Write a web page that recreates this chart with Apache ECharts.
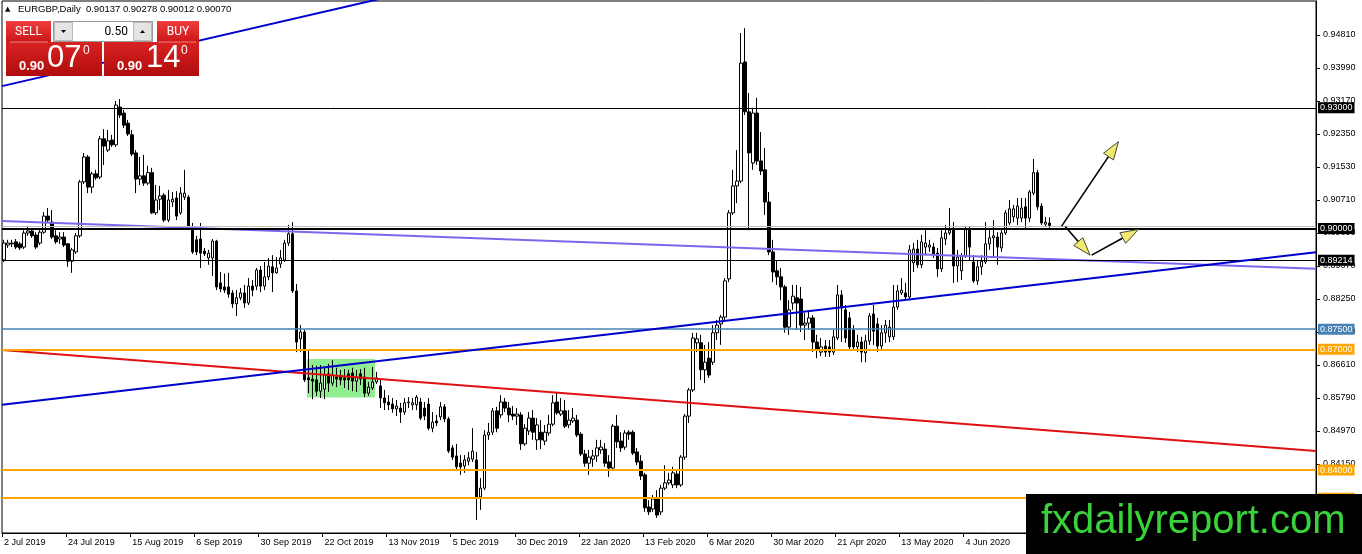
<!DOCTYPE html>
<html><head><meta charset="utf-8">
<script src="https://cdn.jsdelivr.net/npm/echarts@6/dist/echarts.min.js"></script>
<style>html,body{margin:0;padding:0;background:#fff;}#c{width:1362px;height:554px;}</style>
</head><body><div id="c"></div>
<script>
// ---------- data ----------
const tickLabels = ['2 Jul 2019','24 Jul 2019','15 Aug 2019','6 Sep 2019','30 Sep 2019','22 Oct 2019','13 Nov 2019','5 Dec 2019','30 Dec 2019','22 Jan 2020','13 Feb 2020','6 Mar 2020','30 Mar 2020','21 Apr 2020','13 May 2020','4 Jun 2020','26 Jun 2020','20 Jul 2020','11 Aug 2020','2 Sep 2020','24 Sep 2020'];
const opens = [
0.8922,0.8959,0.8962,0.8967,0.8962,0.8954,0.8989,0.8994,0.8984,0.8964,
0.8991,0.9031,0.9016,0.8982,0.8974,0.8979,0.8962,0.8919,0.8942,0.8982,
0.9116,0.9178,0.9103,0.9136,0.9128,0.9223,0.9195,0.9220,0.9208,0.9302,
0.9287,0.9262,0.9233,0.9188,0.9123,0.9131,0.9113,0.9139,0.9039,0.9073,
0.9083,0.9021,0.9066,0.9076,0.9039,0.9078,0.9078,0.9004,0.8972,0.8974,
0.8944,0.8927,0.8927,0.8969,0.8865,0.8855,0.8855,0.8840,0.8813,0.8828,
0.8840,0.8815,0.8857,0.8857,0.8897,0.8857,0.8880,0.8905,0.8890,0.8912,
0.8922,0.8964,0.8987,0.8845,0.8726,0.8743,0.8629,0.8626,0.8624,0.8596,
0.8601,0.8639,0.8616,0.8631,0.8631,0.8629,0.8639,0.8641,0.8621,0.8639,
0.8631,0.8591,0.8604,0.8619,0.8609,0.8579,0.8569,0.8564,0.8552,0.8554,
0.8544,0.8567,0.8562,0.8562,0.8569,0.8554,0.8564,0.8504,0.8522,0.8532,
0.8557,0.8527,0.8455,0.8435,0.8417,0.8410,0.8422,0.8427,0.8425,0.8333,
0.8355,0.8487,0.8494,0.8547,0.8537,0.8569,0.8554,0.8539,0.8534,0.8537,
0.8465,0.8497,0.8529,0.8475,0.8494,0.8472,0.8492,0.8514,0.8569,0.8539,
0.8547,0.8512,0.8522,0.8524,0.8489,0.8440,0.8417,0.8427,0.8435,0.8450,
0.8452,0.8420,0.8405,0.8509,0.8472,0.8457,0.8494,0.8494,0.8445,0.8422,
0.8388,0.8308,0.8303,0.8328,0.8296,0.8355,0.8368,0.8363,0.8390,0.8363,
0.8432,0.8534,0.8599,0.8716,0.8716,0.8649,0.8678,0.8668,0.8741,0.8763,
0.8780,0.8875,0.9039,0.9106,0.9118,0.9414,0.9290,0.9163,0.9287,0.9168,
0.9146,0.9066,0.8942,0.8895,0.8880,0.8855,0.8755,0.8815,0.8828,0.8825,
0.8760,0.8765,0.8778,0.8718,0.8693,0.8708,0.8706,0.8693,0.8728,0.8835,
0.8798,0.8778,0.8748,0.8706,0.8718,0.8691,0.8721,0.8788,0.8763,0.8708,
0.8741,0.8731,0.8731,0.8805,0.8840,0.8840,0.8830,0.8915,0.8949,0.8910,
0.8954,0.8954,0.8954,0.8939,0.8900,0.8974,0.8989,0.8996,0.8907,0.8895,
0.8932,0.8999,0.8917,0.8870,0.8905,0.8917,0.8962,0.8977,0.8979,0.8952,
0.8989,0.9014,0.9029,0.9026,0.9026,0.9054,0.9026,0.9088,0.9139,0.9056,
0.9011,0.90137];
const closes = [
0.8964,0.8964,0.8964,0.8954,0.8952,0.8989,0.8994,0.8982,0.8954,0.8991,
0.9031,0.9021,0.8979,0.8967,0.8979,0.8959,0.8919,0.8947,0.8982,0.9116,
0.9178,0.9103,0.9136,0.9126,0.9223,0.9205,0.9218,0.9208,0.9307,0.9282,
0.9257,0.9235,0.9185,0.9123,0.9131,0.9113,0.9139,0.9039,0.9071,0.9081,
0.9021,0.9071,0.9073,0.9031,0.9088,0.9088,0.9004,0.8942,0.8942,0.8939,
0.8937,0.8939,0.8969,0.8855,0.8850,0.8847,0.8837,0.8813,0.8828,0.8840,
0.8815,0.8857,0.8847,0.8897,0.8857,0.8880,0.8907,0.8890,0.8902,0.8927,
0.8964,0.8987,0.8845,0.8718,0.8743,0.8624,0.8624,0.8621,0.8596,0.8616,
0.8636,0.8616,0.8636,0.8626,0.8624,0.8624,0.8624,0.8621,0.8631,0.8626,
0.8591,0.8606,0.8619,0.8629,0.8579,0.8567,0.8562,0.8552,0.8559,0.8544,
0.8567,0.8569,0.8567,0.8581,0.8529,0.8534,0.8504,0.8519,0.8517,0.8557,
0.8527,0.8447,0.8432,0.8408,0.8408,0.8425,0.8430,0.8447,0.8333,0.8355,
0.8487,0.8494,0.8547,0.8504,0.8569,0.8554,0.8537,0.8534,0.8539,0.8465,
0.8504,0.8529,0.8494,0.8512,0.8475,0.8494,0.8514,0.8567,0.8542,0.8547,
0.8509,0.8524,0.8529,0.8487,0.8440,0.8417,0.8432,0.8435,0.8455,0.8457,
0.8417,0.8405,0.8509,0.8470,0.8455,0.8492,0.8489,0.8442,0.8420,0.8385,
0.8306,0.8296,0.8328,0.8288,0.8355,0.8368,0.8375,0.8393,0.8363,0.8432,
0.8534,0.8599,0.8728,0.8726,0.8649,0.8668,0.8636,0.8741,0.8760,0.8780,
0.8870,0.9039,0.9106,0.9118,0.9411,0.9290,0.9188,0.9287,0.9168,0.9143,
0.9066,0.8942,0.8892,0.8880,0.8855,0.8755,0.8798,0.8832,0.8815,0.8760,
0.8765,0.8778,0.8718,0.8698,0.8706,0.8693,0.8693,0.8731,0.8835,0.8803,
0.8728,0.8706,0.8706,0.8718,0.8693,0.8721,0.8783,0.8745,0.8708,0.8741,
0.8760,0.8755,0.8805,0.8845,0.8847,0.8830,0.8947,0.8949,0.8910,0.8967,
0.8964,0.8959,0.8937,0.8900,0.8977,0.8989,0.8996,0.8907,0.8929,0.8932,
0.8999,0.8954,0.8870,0.8905,0.8919,0.8962,0.8977,0.8982,0.8954,0.8989,
0.9039,0.9049,0.9049,0.9056,0.9051,0.9026,0.9091,0.9139,0.9054,0.9014,
0.9016,0.90070];
const lows = [
0.8917,0.8952,0.8954,0.8949,0.8947,0.8949,0.8982,0.8977,0.8949,0.8959,
0.8987,0.9016,0.8974,0.8962,0.8962,0.8954,0.8905,0.8890,0.8937,0.8977,
0.9111,0.9088,0.9088,0.9121,0.9123,0.9158,0.9190,0.9203,0.9203,0.9275,
0.9250,0.9230,0.9180,0.9088,0.9108,0.9106,0.9108,0.9036,0.9034,0.9046,
0.9016,0.9016,0.9054,0.9021,0.9034,0.9071,0.8999,0.8937,0.8934,0.8902,
0.8932,0.8910,0.8882,0.8847,0.8842,0.8840,0.8828,0.8803,0.8783,0.8822,
0.8803,0.8810,0.8832,0.8847,0.8842,0.8847,0.8872,0.8842,0.8888,0.8902,
0.8917,0.8957,0.8840,0.8693,0.8693,0.8619,0.8591,0.8576,0.8584,0.8579,
0.8576,0.8594,0.8609,0.8606,0.8611,0.8604,0.8599,0.8596,0.8594,0.8611,
0.8581,0.8584,0.8599,0.8614,0.8554,0.8549,0.8549,0.8542,0.8534,0.8517,
0.8537,0.8554,0.8549,0.8549,0.8524,0.8524,0.8499,0.8494,0.8509,0.8524,
0.8519,0.8442,0.8425,0.8400,0.8388,0.8393,0.8412,0.8420,0.8276,0.8301,
0.8350,0.8475,0.8487,0.8494,0.8529,0.8544,0.8519,0.8524,0.8512,0.8450,
0.8460,0.8487,0.8475,0.8450,0.8452,0.8462,0.8485,0.8509,0.8537,0.8534,
0.8504,0.8504,0.8517,0.8482,0.8435,0.8408,0.8388,0.8408,0.8420,0.8440,
0.8408,0.8383,0.8400,0.8455,0.8445,0.8450,0.8475,0.8437,0.8412,0.8375,
0.8296,0.8288,0.8296,0.8281,0.8288,0.8350,0.8363,0.8355,0.8355,0.8358,
0.8425,0.8517,0.8594,0.8693,0.8624,0.8616,0.8629,0.8661,0.8723,0.8711,
0.8773,0.8867,0.9034,0.9063,0.9113,0.9282,0.8996,0.9146,0.9158,0.9133,
0.9034,0.8934,0.8867,0.8860,0.8822,0.8741,0.8736,0.8798,0.8748,0.8743,
0.8723,0.8748,0.8693,0.8678,0.8683,0.8681,0.8681,0.8686,0.8723,0.8718,
0.8716,0.8698,0.8698,0.8693,0.8668,0.8668,0.8711,0.8711,0.8693,0.8698,
0.8716,0.8718,0.8723,0.8798,0.8835,0.8822,0.8822,0.8892,0.8902,0.8902,
0.8934,0.8942,0.8927,0.8880,0.8892,0.8959,0.8984,0.8865,0.8867,0.8872,
0.8927,0.8922,0.8865,0.8860,0.8885,0.8912,0.8947,0.8927,0.8910,0.8942,
0.8984,0.9009,0.9016,0.9009,0.9016,0.9001,0.9016,0.9083,0.9046,0.9009,
0.9004,0.90012];
const highs = [
0.8972,0.8972,0.8972,0.8974,0.8967,0.8996,0.9006,0.9001,0.8991,0.8999,
0.9041,0.9051,0.9046,0.8996,0.8991,0.8991,0.8964,0.8952,0.8989,0.9121,
0.9188,0.9183,0.9141,0.9146,0.9230,0.9247,0.9245,0.9233,0.9317,0.9322,
0.9295,0.9270,0.9245,0.9195,0.9178,0.9183,0.9156,0.9151,0.9108,0.9106,
0.9088,0.9096,0.9091,0.9093,0.9103,0.9146,0.9083,0.9014,0.8982,0.9014,
0.8952,0.8947,0.8974,0.8972,0.8892,0.8888,0.8890,0.8847,0.8847,0.8852,
0.8860,0.8877,0.8872,0.8902,0.8907,0.8917,0.8927,0.8934,0.8929,0.8947,
0.8972,0.9009,0.9016,0.8862,0.8760,0.8748,0.8698,0.8661,0.8659,0.8661,
0.8654,0.8664,0.8673,0.8654,0.8649,0.8651,0.8649,0.8654,0.8649,0.8651,
0.8654,0.8619,0.8656,0.8644,0.8624,0.8599,0.8586,0.8579,0.8574,0.8567,
0.8579,0.8581,0.8579,0.8586,0.8579,0.8569,0.8579,0.8544,0.8537,0.8569,
0.8564,0.8532,0.8462,0.8465,0.8437,0.8437,0.8445,0.8504,0.8445,0.8380,
0.8499,0.8517,0.8554,0.8557,0.8586,0.8579,0.8569,0.8559,0.8554,0.8544,
0.8514,0.8544,0.8549,0.8529,0.8524,0.8512,0.8537,0.8586,0.8591,0.8579,
0.8574,0.8549,0.8554,0.8537,0.8494,0.8450,0.8450,0.8450,0.8475,0.8475,
0.8467,0.8437,0.8514,0.8537,0.8494,0.8499,0.8499,0.8499,0.8455,0.8437,
0.8393,0.8325,0.8338,0.8350,0.8363,0.8412,0.8393,0.8408,0.8400,0.8437,
0.8539,0.8604,0.8741,0.8741,0.8736,0.8711,0.8718,0.8760,0.8773,0.8785,
0.8877,0.9046,0.9146,0.9195,0.9486,0.9498,0.9337,0.9300,0.9325,0.9240,
0.9200,0.9091,0.8972,0.8922,0.8902,0.8860,0.8822,0.8860,0.8860,0.8855,
0.8790,0.8793,0.8785,0.8736,0.8728,0.8723,0.8723,0.8748,0.8860,0.8847,
0.8810,0.8793,0.8760,0.8736,0.8731,0.8736,0.8790,0.8810,0.8778,0.8760,
0.8773,0.8773,0.8860,0.8860,0.8877,0.8865,0.8959,0.8964,0.8972,0.8984,
0.8999,0.8972,0.8964,0.8952,0.8996,0.9009,0.9051,0.9016,0.8947,0.8939,
0.9004,0.9004,0.8934,0.8922,0.8934,0.9016,0.8996,0.9021,0.8991,0.8996,
0.9046,0.9071,0.9059,0.9076,0.9076,0.9076,0.9096,0.9173,0.9146,0.9063,
0.9029,0.90278];
const yLabelValues = [0.8333,0.8415,0.8497,0.8579,0.8661,0.8743,0.8825,0.8907,0.8989,0.9071,0.9153,0.9235,0.9317,0.9399,0.9481];
const levelPrices = [0.93000, 0.90000, 0.89214, 0.87500, 0.87000, 0.84000, 0.83300];
// trend lines: [barIndex, price] anchor pairs
const trendUpperBlue = [[-0.5, 0.9354], [100, 0.9585]];
const trendBlue = [[-0.5, 0.8562], [327.5, 0.8941]];
const trendPurple = [[-0.5, 0.9019], [327.5, 0.8900]];
const trendRed = [[-0.5, 0.8698], [327.5, 0.8447]];
// arrows: [fromBar, fromPrice, toBar, toPrice]
const arrows = [[264.0, 0.9006, 278.2, 0.9216], [264.9, 0.9005, 271.1, 0.8934], [271.5, 0.8934, 283.2, 0.8998]];
// consolidation box: [bar0, price0, bar1, price1]
const zone = [[75.6, 0.8676, 92.6, 0.8580]];
const SLOTS = 328;

// ---------- chart ----------
const FONT = '"Liberation Sans", Arial, sans-serif';
const chart = echarts.init(document.getElementById('c'), null, {width:1362, height:554});
const ohlc = opens.map((o, i) => [o, closes[i], lows[i], highs[i]]);
const cats = Array.from({length: SLOTS}, (_, i) => String(i));
const every16 = (i) => i % 16 === 0;
const bid = closes[closes.length - 1];

const levelColors = ['#000000','#000000','#000000','#4682b4','#ffa500','#ffa500','#ffa500'];
const levelWidths = [1, 2, 1, 1.5, 2, 2, 2];
const markData = [{yAxis: bid, lineStyle:{color:'#c0c0c0', width:1, type:'solid'}, label:{show:false}}]
  .concat(levelPrices.map((p, k) => ({
    yAxis: p,
    lineStyle: {color: levelColors[k], width: levelWidths[k], type: 'solid'},
    label: {show: true, position: 'end', distance: 2, formatter: p.toFixed(5),
      backgroundColor: levelColors[k], color: '#fff', fontSize: 9, fontFamily: FONT,
      padding: [1, 2, 0, 2], lineHeight: 10}
  })));

const redTop = new echarts.graphic.LinearGradient(0,0,0,1,[{offset:0,color:'#ee3e3e'},{offset:1,color:'#cc1717'}]);
const redBox1 = new echarts.graphic.LinearGradient(0,0,0,1,[{offset:0,color:'#d92222'},{offset:1,color:'#b10c0c'}]);
const redBox2 = new echarts.graphic.LinearGradient(0,0,0,1,[{offset:0,color:'#d92222'},{offset:1,color:'#b10c0c'}]);

function txt(x, y, text, font, fill, align) {
  return {type:'text', x:x, y:y, z:100, silent:true,
    style:{text:text, font:font, fill:fill, align:align || 'left', verticalAlign:'middle'}};
}

const option = {
  animation: false,
  backgroundColor: '#ffffff',
  grid: {left: 2, right: 46, top: 1, bottom: 21, show: true, borderColor: '#000', borderWidth: 1, containLabel: false},
  xAxis: [{
    type: 'category', data: cats, boundaryGap: true,
    axisLine: {show: true, onZero: false, lineStyle: {color: '#000', width: 1}},
    axisTick: {show: true, interval: every16, alignWithLabel: false, length: 4, lineStyle: {color: '#000'}},
    axisLabel: {interval: every16, formatter: (v, i) => tickLabels[i / 16] || '', align: 'left',
      margin: 5, fontSize: 9, fontFamily: FONT, color: '#000'},
    splitLine: {show: false}
  }, {
    type: 'value', min: -0.5, max: SLOTS - 0.5, show: false,
    axisLine: {onZero: false}
  }],
  yAxis: {
    type: 'value', position: 'right', min: 0.82435, max: 0.95655,
    axisLine: {show: true, onZero: false, lineStyle: {color: '#000', width: 1}},
    axisTick: {show: true, inside: false, customValues: yLabelValues, length: 4, lineStyle: {color: '#000'}},
    axisLabel: {customValues: yLabelValues, formatter: v => v.toFixed(5), color: '#000',
      fontSize: 9, fontFamily: FONT, margin: 7},
    splitLine: {show: false}
  },
  series: [
    {type: 'custom', xAxisIndex: 1, z: 1, silent: true, clip: true, data: zone,
      encode: {x: [0, 2], y: [1, 3]},
      renderItem: (params, api) => {
        const a = api.coord([api.value(0), api.value(1)]);
        const b = api.coord([api.value(2), api.value(3)]);
        return {type: 'rect', shape: {x: Math.min(a[0], b[0]), y: Math.min(a[1], b[1]),
          width: Math.abs(b[0] - a[0]), height: Math.abs(b[1] - a[1])}, style: {fill: '#90ee90'}};
      }},
    {type: 'candlestick', data: ohlc, barWidth: 3, z: 3, silent: true,
      itemStyle: {color: '#ffffff', color0: '#000000', borderColor: '#000000', borderColor0: '#000000', borderWidth: 1}},
    {type: 'line', xAxisIndex: 1, data: trendPurple, symbol: 'none', z: 4, silent: true,
      lineStyle: {color: '#7b68ee', width: 2}},
    {type: 'line', xAxisIndex: 1, data: trendRed, symbol: 'none', z: 4, silent: true,
      lineStyle: {color: '#e01010', width: 2}},
    {type: 'line', xAxisIndex: 1, data: trendUpperBlue, symbol: 'none', z: 4, silent: true,
      lineStyle: {color: '#0000cd', width: 2}},
    {type: 'line', xAxisIndex: 1, data: trendBlue, symbol: 'none', z: 5, silent: true,
      lineStyle: {color: '#0000cd', width: 2},
      markLine: {symbol: ['none', 'none'], silent: true, animation: false, precision: 5, data: markData}},
    {type: 'custom', xAxisIndex: 1, z: 6, silent: true, clip: true, data: arrows,
      encode: {x: [0, 2], y: [1, 3]},
      renderItem: (params, api) => {
        const a = api.coord([api.value(0), api.value(1)]);
        const b = api.coord([api.value(2), api.value(3)]);
        const dx = b[0] - a[0], dy = b[1] - a[1], L = Math.hypot(dx, dy);
        const ux = dx / L, uy = dy / L, hl = 18, hw = 6;
        const base = [b[0] - ux * hl, b[1] - uy * hl];
        return {type: 'group', children: [
          {type: 'line', shape: {x1: a[0], y1: a[1], x2: base[0], y2: base[1]}, style: {stroke: '#000', lineWidth: 1.6}},
          {type: 'polygon', shape: {points: [b, [base[0] - uy * hw, base[1] + ux * hw], [base[0] + uy * hw, base[1] - ux * hw]]},
            style: {fill: '#f2ea6c', stroke: '#444', lineWidth: 1}}
        ]};
      }}
  ],
  graphic: {elements: [
    txt(5, 9, '\u25B2', '7px "DejaVu Sans"', '#000'),
    txt(18, 9.5, 'EURGBP,Daily  0.90137 0.90278 0.90012 0.90070', '9.5px ' + FONT, '#000'),
    {type: 'rect', z: 100, shape: {x: 6, y: 21, width: 45, height: 21}, style: {fill: redTop}},
    {type: 'rect', z: 100, shape: {x: 157, y: 21, width: 42, height: 21}, style: {fill: redTop}},
    txt(28.5, 31.5, 'SELL', '12px Roboto', '#fff', 'center'),
    txt(178, 31.5, 'BUY', '12px Roboto', '#fff', 'center'),
    {type: 'rect', z: 100, shape: {x: 53.5, y: 21.5, width: 99, height: 20}, style: {fill: '#ffffff', stroke: '#9a9a9a', lineWidth: 1}},
    {type: 'rect', z: 100, shape: {x: 54.5, y: 22.5, width: 18, height: 18}, style: {fill: '#e4e4e4', stroke: '#b8b8b8', lineWidth: 1}},
    {type: 'rect', z: 100, shape: {x: 133.5, y: 22.5, width: 18, height: 18}, style: {fill: '#e4e4e4', stroke: '#b8b8b8', lineWidth: 1}},
    {type: 'polygon', z: 101, shape: {points: [[61, 30], [66, 30], [63.5, 33]]}, style: {fill: '#000'}},
    {type: 'polygon', z: 101, shape: {points: [[140, 33], [145, 33], [142.5, 30]]}, style: {fill: '#000'}},
    txt(128, 31.5, '0.50', '12px Roboto', '#000', 'right'),
    {type: 'rect', z: 100, shape: {x: 6, y: 42, width: 96, height: 34}, style: {fill: redBox1}},
    {type: 'rect', z: 100, shape: {x: 104, y: 42, width: 95, height: 34}, style: {fill: redBox2}},
    {type: 'rect', z: 101, shape: {x: 10, y: 41.5, width: 38, height: 1}, style: {fill: '#f08080'}},
    {type: 'rect', z: 101, shape: {x: 158, y: 41.5, width: 38, height: 1}, style: {fill: '#f08080'}},
    txt(19, 66, '0.90', 'bold 13px ' + FONT, '#fff'),
    txt(47, 58.5, '07', '31px ' + FONT, '#fff'),
    txt(83, 51, '0', '12px ' + FONT, '#fff'),
    txt(117, 66, '0.90', 'bold 13px ' + FONT, '#fff'),
    txt(146, 58.5, '14', '31px ' + FONT, '#fff'),
    txt(181, 51, '0', '12px ' + FONT, '#fff'),
    {type: 'rect', z: 200, shape: {x: 1026, y: 494, width: 336, height: 60}, style: {fill: '#000'}},
    {type: 'text', z: 201, x: 1041, y: 522, silent: true,
      style: {text: 'fxdailyreport.com', font: '40px ' + FONT, fill: '#3ad23a', verticalAlign: 'middle'}}
  ]}
};
chart.setOption(option);
</script>
</body></html>
